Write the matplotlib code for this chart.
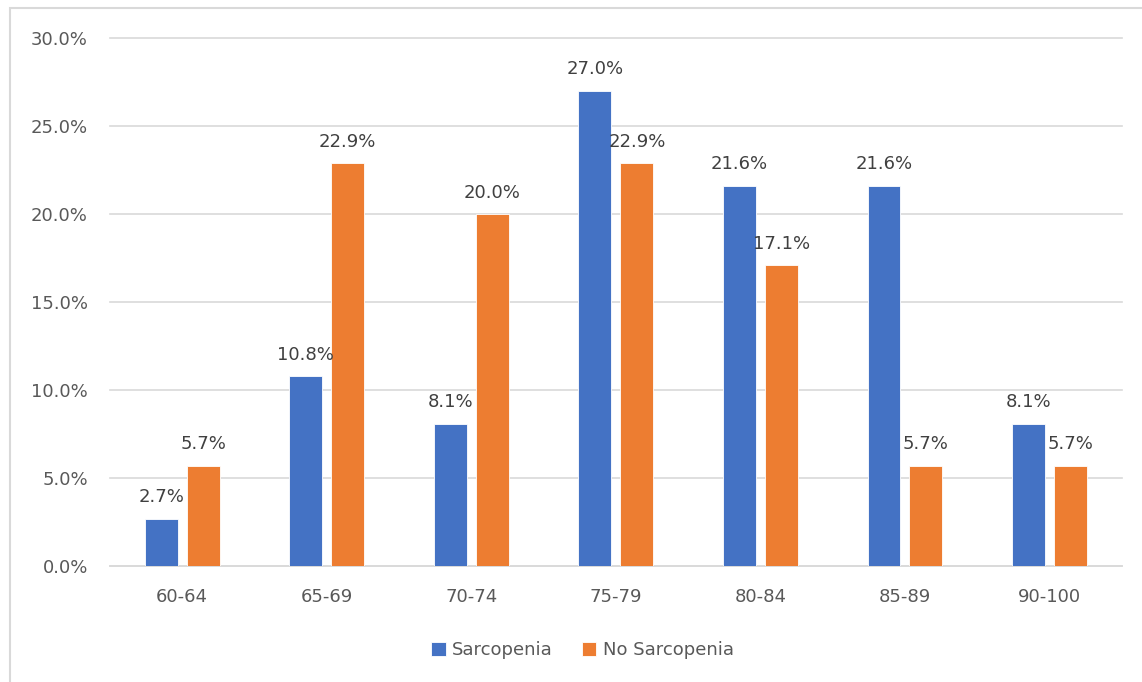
import matplotlib.pyplot as plt
import numpy as np
from matplotlib.patches import Rectangle

plt.rcParams['font.family'] = ['DejaVu Sans']

age_groups = ['60-64', '65-69', '70-74', '75-79', '80-84', '85-89', '90-100']
sarcopenia = [2.7, 10.8, 8.1, 27.0, 21.6, 21.6, 8.1]
no_sarcopenia = [5.7, 22.9, 20.0, 22.9, 17.1, 5.7, 5.7]
yticks = [0, 5, 10, 15, 20, 25, 30]

blue = '#4472C4'
orange = '#ED7D31'
grey_text = '#595959'
grid_col = '#D9D9D9'

fig = plt.figure(figsize=(11.42, 6.82), dpi=100)
ax = fig.add_axes([0.0963, 0.170, 0.886, 0.774])

x = np.arange(len(age_groups))
w = 0.228
off = 0.145
b1 = ax.bar(x - off, sarcopenia, w, color=blue, edgecolor='white', linewidth=0.6,
            label='Sarcopenia', zorder=3)
b2 = ax.bar(x + off, no_sarcopenia, w, color=orange, edgecolor='white', linewidth=0.6,
            label='No Sarcopenia', zorder=3)

for bars, vals in ((b1, sarcopenia), (b2, no_sarcopenia)):
    for bar, v in zip(bars, vals):
        ax.annotate(f'{v:.1f}%', (bar.get_x() + bar.get_width() / 2, v),
                    xytext=(0, 9), textcoords='offset points',
                    ha='center', va='bottom', fontsize=13, color='#404040')

ax.set_xlim(-0.5, len(age_groups) - 0.5)
ax.set_ylim(0, 30)
ax.set_yticks(yticks)
ax.set_yticklabels([f'{t:.1f}%' for t in yticks])
ax.set_xticks(x)
ax.set_xticklabels(age_groups)
ax.tick_params(axis='both', length=0, labelsize=13, colors=grey_text)
ax.tick_params(axis='y', pad=16)
ax.tick_params(axis='x', pad=16)
ax.grid(axis='y', color=grid_col, linewidth=1.2, zorder=0)
for gl in ax.get_ygridlines():
    gl.set_clip_on(False)
for s in ['top', 'right', 'left']:
    ax.spines[s].set_visible(False)
ax.spines['bottom'].set_color(grid_col)
ax.spines['bottom'].set_linewidth(1.2)

leg = fig.legend(handles=[b1, b2], loc='center', bbox_to_anchor=(0.51, 0.047),
                 ncol=2, frameon=False, fontsize=13, handlelength=0.8, handleheight=0.8,
                 handletextpad=0.35, columnspacing=1.6)
for t in leg.get_texts():
    t.set_color(grey_text)

# outer chart border
fig.patches.append(Rectangle((10 / 1142, -0.1), 1.2, 1.1 - 8 / 682,
                             transform=fig.transFigure, fill=False,
                             edgecolor=grid_col, linewidth=1.5))

fig.savefig('out.png', dpi=100)
